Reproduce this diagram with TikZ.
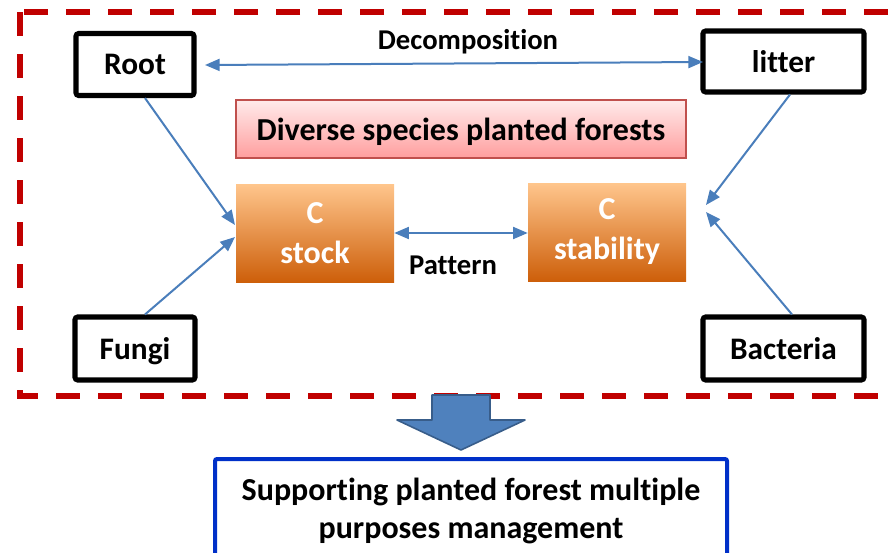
\documentclass[tikz,border=0pt]{standalone}
\usepackage{fontspec}
\setmainfont{Carlito}[Ligatures=NoCommon]
\usetikzlibrary{arrows.meta}
\definecolor{dashred}{RGB}{192,0,0}
\definecolor{linkblue}{RGB}{74,126,187}
\definecolor{bigblue}{RGB}{79,129,189}
\definecolor{bigedge}{RGB}{56,93,138}
\definecolor{boxblue}{RGB}{0,48,200}
\tikzset{
  actor/.style={draw=black, line width=3.8pt, rounded corners=2pt, fill=white,
    font=\bfseries\fontsize{23.5}{26}\selectfont, inner sep=0pt, text depth=0pt},
  cbox/.style={draw=none, top color=orange!45!white, bottom color={rgb,255:red,205;green,95;blue,10},
    text=white, font=\bfseries\fontsize{24}{30}\selectfont, align=center,
    minimum width=118.5pt, minimum height=73.5pt, inner sep=0pt},
  link/.style={draw=linkblue, line width=1.5pt, -{Triangle[length=11pt,width=9pt]}},
  biglink/.style={link, {Triangle[length=11pt,width=9pt]}-{Triangle[length=11pt,width=9pt]}},
}
\begin{document}
\begin{tikzpicture}[x=0.75pt, y=-0.75pt]
  \useasboundingbox (0,0) rectangle (894,553);
  % dashed frame
  \draw[dashred, line width=4pt, dash pattern=on 18pt off 13.5pt] (20,12) rectangle (910,396);
  % outer boxes
  \node[actor, minimum width=88.5pt, minimum height=46.5pt] (root) at (135,64.5) {Root};
  \node[actor, minimum width=120.75pt, minimum height=45.75pt] (litter) at (783.5,61.5) {litter};
  \node[actor, minimum width=90pt, minimum height=47.25pt] (fungi) at (135,348.5) {Fungi};
  \node[actor, minimum width=120.75pt, minimum height=47.25pt] (bacteria) at (783.5,348.5) {Bacteria};
  % middle
  \node[draw={rgb,255:red,192;green,80;blue,77}, line width=0.8pt, top color=red!8!white,
    bottom color=red!38!white, minimum width=337.5pt, minimum height=43.5pt, inner sep=0pt,
    text depth=0pt, font=\bfseries\fontsize{24}{26}\selectfont] (diverse) at (461,129) {Diverse species planted forests};
  \node[cbox] (stock) at (315,233) {C\\stock};
  \node[cbox] (stab) at (607,232) {C\\stability};
  % connectors
  \draw[biglink] (205,65) coordinate (dl) -- (703,62) coordinate (dr);
  \node[font=\bfseries\fontsize{21.5}{24}\selectfont] (decomp) at (468,42) {Decomposition};
  \draw[biglink] (stock.east |- 0,233) -- (stab.west |- 0,233);
  \node[font=\bfseries\fontsize{21.5}{24}\selectfont] (pattern) at (453,265) {Pattern};
  \draw[link] (root.south -| 145,0) -- (235,225);
  \draw[link] (fungi.north -| 145,0) -- (235,237);
  \draw[link] (litter.south -| 790,0) -- (706,205);
  \draw[link] (bacteria.north -| 792,0) -- (706,212);
  % big arrow
  \draw[bigedge, fill=bigblue, line width=1.2pt, line join=round]
    (432,395) -- (490,395) -- (490,420) -- (525,420) -- (461,450) -- (397,420) -- (432,420) -- cycle;
  % result box
  \draw[boxblue, line width=3pt, rounded corners=1.5pt] (215,600) -- (215,459) -- (727,459) -- (727,600);
  \node[font=\bfseries\fontsize{24}{28}\selectfont, align=center] (result) at (471,511)
    {Supporting planted forest multiple\\purposes management};
\end{tikzpicture}
\end{document}
